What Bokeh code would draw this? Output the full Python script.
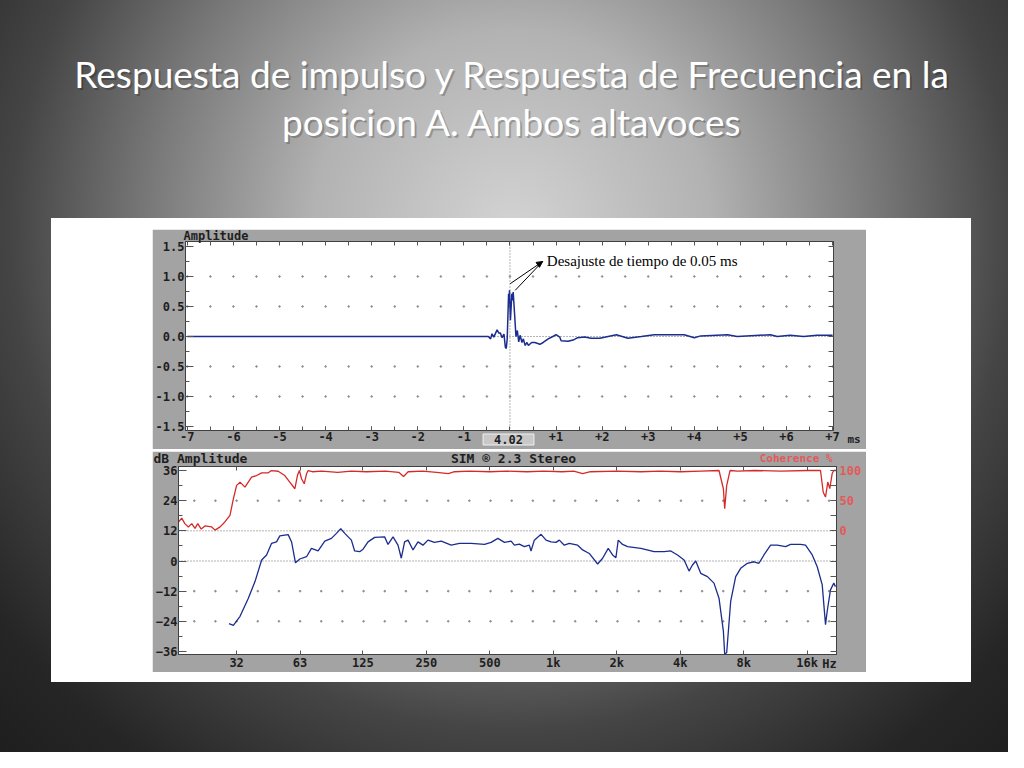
import numpy as np
from bokeh.plotting import figure
from bokeh.models import (Range1d, LinearAxis, LogAxis, FixedTicker, Label, Span,
                          Arrow, NormalHead, Spacer)
from bokeh.layouts import column, row
from bokeh.embed import file_html
from bokeh.resources import INLINE
from bokeh.core.properties import value

# ---------------- data ----------------
TITLE_LINES = ["Respuesta de impulso y Respuesta de Frecuencia en la",
               "posicion A. Ambos altavoces"]

# impulse response (time in ms, amplitude)
IMP_T = [-7.0, -0.47, -0.42, -0.39, -0.35, -0.28, -0.24, -0.21, -0.17, -0.13, -0.10,
         -0.08, -0.06, -0.04, -0.03, -0.02, -0.01, 0.01, 0.03, 0.04, 0.05, 0.07, 0.10,
         0.13, 0.16, 0.19, 0.22, 0.26, 0.29, 0.33, 0.37, 0.40, 0.47, 0.54, 0.65, 0.72,
         0.83, 0.93, 1.00, 1.08, 1.11, 1.26, 1.37, 1.47, 1.62, 1.76, 1.95, 2.31, 2.56,
         2.85, 3.13, 3.42, 3.78, 4.00, 4.14, 4.72, 4.93, 5.65, 5.80, 6.08, 6.37, 6.66, 7.0]
IMP_A = [0.0, 0.0, -0.04, 0.045, -0.01, 0.11, 0.055, 0.06, -0.02, 0.04, -0.18,
         -0.20, -0.04, 0.45, 0.71, 0.55, 0.77, 0.27, 0.55, 0.71, 0.60, 0.74, 0.38,
         0.0, 0.10, -0.09, 0.02, -0.10, -0.04, -0.15, -0.10, -0.15, -0.10, -0.10, -0.13, -0.10,
         -0.04, 0.0, 0.03, -0.01, -0.07, -0.08, -0.06, -0.02, -0.01, -0.03, -0.03, 0.03, -0.03,
         0.0, 0.03, 0.03, 0.03, -0.02, 0.01, 0.03, 0.0, 0.03, 0.0, 0.02, 0.0, 0.02, 0.02]

MS_TICKS = [-7, -6, -5, -4, -3, -2, -1, 1, 2, 3, 4, 5, 6, 7]
MS_LABELS = ["-7", "-6", "-5", "-4", "-3", "-2", "-1", "+1", "+2", "+3", "+4", "+5", "+6", "+7"]
CENTER_LABEL = "4.02"
AMP_TICKS = [-1.5, -1.0, -0.5, 0.0, 0.5, 1.0, 1.5]
AMP_LABELS = ["-1.5", "-1.0", "-0.5", "0.0", "0.5", "1.0", "1.5"]

# frequency response magnitude (Hz, dB)
AMP_F = [29.0, 30.4, 32.7, 35.8, 38.5, 41.4, 43.7, 46.1, 48.7, 50.5, 55.3, 57.4, 59.9, 62.8,
         67.6, 71.3, 76.7, 82.5, 88.7, 93.7, 98.2, 102.6, 110.3, 114.3, 120.8, 125.3, 132.3,
         142.2, 158.6, 164.6, 173.8, 183.5, 190.2, 197.2, 204.7, 216.2, 228.2, 241.0, 254.5,
         273.4, 294.2, 328, 359, 408, 472, 507, 546, 587, 631, 654, 690, 729, 770, 784, 813,
         875, 924, 976, 1030, 1068, 1128, 1191, 1305, 1378, 1481, 1623, 1714, 1822, 1911,
         1981, 2032, 2131, 2250, 2602, 3008, 3354, 3608, 3881, 4171, 4404, 4571, 4738, 5002,
         5383, 5781, 6107, 6407, 6498, 6641, 6937, 7327, 7737, 8326, 8943, 9444, 9976, 10729,
         11542, 12638, 13343, 14881, 15712, 16903, 17851, 18850, 19539, 19902, 20629, 21385,
         21785]
AMP_DB = [-24.9, -25.6, -22.0, -14.8, -8.2, 0.4, 2.4, 7.0, 7.6, 10.0, 10.5, 7.6, -0.7, 0.8,
          1.7, 5.0, 4.0, 7.9, 9.0, 11.0, 12.9, 11.0, 8.3, 4.0, 3.7, 4.7, 7.6,
          9.4, 9.6, 6.6, 9.6, 6.3, 1.1, 7.6, 8.3, 4.4, 7.6, 6.3, 8.3,
          7.4, 7.9, 6.3, 7.0, 7.0, 6.6, 7.4, 9.0, 7.4, 7.9, 6.3, 6.7, 5.7, 6.3, 4.0, 8.3,
          10.6, 8.3, 7.6, 7.4, 8.3, 6.3, 7.0, 6.3, 4.4, 3.0, -1.2, 1.1, 5.0, 2.4,
          1.3, 8.3, 6.6, 5.7, 5.0, 3.7, 3.7, 4.0, 2.4, 0.4, -4.0, -1.6, 0.0, -4.9,
          -6.2, -8.8, -14.8, -28.0, -37.0, -36.5, -16.1, -6.2, -2.9, -0.9, -0.3, -0.9, 2.4, 6.3,
          6.3, 5.7, 6.6, 6.6, 6.3, 2.4, -2.3, -9.5, -25.3, -20.0, -11.5, -8.8,
          -10.2]

# coherence (Hz, %)
COH_F = [16.7, 17.3, 17.9, 18.6, 19.3, 20.0, 20.6, 21.4, 22.3, 24.0, 24.9, 26.3, 27.7, 29.3,
         30.4, 31.5, 32.7, 34.5, 37.1, 39.2, 41.4, 44.5, 46.1, 49.6, 53.3, 56.3, 59.5, 61.2,
         62.5, 64.0, 65.9, 67.6, 68.8, 72, 80, 95, 110, 130, 160, 185, 195, 205, 240, 280,
         318, 340, 400, 500, 600, 750, 900, 1100, 1250, 1378, 1500, 2000, 2600, 3200, 4000,
         5000, 6107, 6407, 6498, 6641, 6886, 7500, 9000, 12000, 16000, 18500, 19060, 19539,
         20034, 20472, 21014, 21385, 22000]
COH = [14.7, 21.0, 12.0, 6.5, 12.0, 4.0, 12.0, 3.0, 8.2, 6.5, 1.2, 6.5, 14.7, 25.8,
       53.0, 75.4, 80.7, 72.5, 88.9, 91.7, 96.2, 96.2, 100, 98.8, 91.7, 80.7, 69.8, 91.7,
       100, 86.3, 78.0, 94.6, 100, 98, 99, 97, 99, 98, 99, 97, 90, 98, 99, 97,
       95, 98, 99, 98, 99, 98, 99, 98, 99, 95, 98, 99, 98, 99, 98,
       99, 100, 69.8, 36.8, 75, 100, 99, 100, 99, 100, 100, 64, 56,
       81, 70, 95, 100, 100]

OCT_F = [31.5, 63, 125, 250, 500, 1000, 2000, 4000, 8000, 16000]
OCT_LABELS = ["32", "63", "125", "250", "500", "1k", "2k", "4k", "8k", "16k"]
DB_TICKS = [-36, -24, -12, 0, 12, 24, 36]
COH_TICKS = [0, 50, 100]

# ---------------- style ----------------
GRAY = "#a3a3a3"
MONO = "DejaVu Sans Mono"
LBL = "#1e1e1e"
AXL = "#404040"
BLUE = "#1b2d8e"
RED = "#d42a2a"
PINK = "#e25a5a"
DOT = "#8c8c8c"


def style_axis(ax, tin, minor_in, color=LBL, standoff=1):
    ax.major_tick_in = tin
    ax.major_tick_out = 0
    ax.minor_tick_in = minor_in
    ax.minor_tick_out = 0
    ax.axis_line_color = AXL
    ax.major_tick_line_color = "#555555"
    ax.minor_tick_line_color = "#555555"
    ax.major_label_text_font = MONO
    ax.major_label_text_font_style = "bold"
    ax.major_label_text_color = color
    ax.major_label_standoff = standoff
    ax.major_label_text_font_size = "12px"


def mono_label(**kw):
    base = dict(text_font=MONO, text_font_style="bold", text_font_size="12px",
                text_color=LBL, text_baseline="middle")
    base.update(kw)
    return Label(**base)


# ---------------- upper: impulse response ----------------
p1 = figure(width=714, height=220, x_range=Range1d(-7.04, 7.02), y_range=Range1d(-1.567, 1.583),
            x_axis_type=None, y_axis_type=None,
            min_border_left=31, min_border_right=33, min_border_top=12, min_border_bottom=19,
            border_fill_color=GRAY, background_fill_color="white", outline_line_color=AXL,
            output_backend="svg", toolbar_location=None)

half_ms = list(np.arange(-7, 7.01, 0.5))
quarter_amp = list(np.arange(-1.5, 1.51, 0.25))

xb = LinearAxis(ticker=FixedTicker(ticks=MS_TICKS, minor_ticks=half_ms),
                major_label_overrides={float(t): l for t, l in zip(MS_TICKS, MS_LABELS)})
style_axis(xb, 4, 4)
p1.add_layout(xb, "below")
xa = LinearAxis(ticker=FixedTicker(ticks=[], minor_ticks=half_ms))
style_axis(xa, 0, 4)
p1.add_layout(xa, "above")
yl = LinearAxis(ticker=FixedTicker(ticks=AMP_TICKS, minor_ticks=quarter_amp),
                major_label_overrides={float(t): l for t, l in zip(AMP_TICKS, AMP_LABELS)})
style_axis(yl, 8, 4)
p1.add_layout(yl, "left")
yr = LinearAxis(ticker=FixedTicker(ticks=[], minor_ticks=quarter_amp))
style_axis(yr, 0, 5)
p1.add_layout(yr, "right")

gx, gy = np.meshgrid(half_ms, [-1.0, -0.5, 0.5, 1.0])
p1.scatter(gx.ravel(), gy.ravel(), size=1.6, color=DOT)
p1.add_layout(Span(location=0, dimension="width", line_color="#6a6a6a", line_dash="1 2",
                   level="underlay"))
p1.add_layout(Span(location=0, dimension="height", line_color="#6a6a6a", line_dash="1 2",
                   level="underlay"))
p1.line(IMP_T, IMP_A, line_color=BLUE, line_width=1.5)

p1.add_layout(Arrow(end=NormalHead(size=6, fill_color="black", line_color="black"),
                    x_start=0.006, y_start=0.88, x_end=0.71, y_end=1.25,
                    line_color="black", line_width=1))
p1.add_layout(Arrow(end=None, x_start=0.115, y_start=0.77, x_end=0.71, y_end=1.25,
                    line_color="black", line_width=1))
p1.add_layout(Label(x=0.80, y=1.25, text="Desajuste de tiempo de 0.05 ms",
                    text_font="Liberation Serif", text_font_size="15px",
                    text_color="black", text_baseline="middle"))

# ---------------- lower: frequency response ----------------
F_MIN, F_MAX = 16.7, 22030
DB_MIN, DB_MAX = -37.2, 37.6
p2 = figure(width=714, height=221, x_axis_type="log", x_axis_location=None, y_axis_location=None,
            x_range=Range1d(F_MIN, F_MAX), y_range=Range1d(DB_MIN, DB_MAX),
            min_border_left=25, min_border_right=30, min_border_top=15, min_border_bottom=17,
            border_fill_color=GRAY, background_fill_color="white", outline_line_color=AXL,
            output_backend="svg", toolbar_location=None)
p2.grid.visible = False
# coherence scale: 0 % at 12 dB, 100 % at 36 dB
p2.extra_y_ranges = {"coh": Range1d((DB_MIN - 12) * 100 / 24, (DB_MAX - 12) * 100 / 24)}

fb = LogAxis(ticker=FixedTicker(ticks=OCT_F),
             major_label_overrides={float(f): l for f, l in zip(OCT_F, OCT_LABELS)})
style_axis(fb, 4, 0)
p2.add_layout(fb, "below")
fa = LogAxis(ticker=FixedTicker(ticks=[], minor_ticks=OCT_F))
style_axis(fa, 0, 4)
p2.add_layout(fa, "above")
dl = LinearAxis(ticker=FixedTicker(ticks=DB_TICKS, minor_ticks=list(range(-36, 37, 6))))
style_axis(dl, 8, 4)
p2.add_layout(dl, "left")
cr = LinearAxis(y_range_name="coh",
                ticker=FixedTicker(ticks=COH_TICKS, minor_ticks=list(range(-200, 101, 25))))
style_axis(cr, 6, 6, color=PINK, standoff=3)
p2.add_layout(cr, "right")

third_oct = [31.5 * 2 ** (k / 3) for k in range(-2, 29)]
gx2, gy2 = np.meshgrid(third_oct, [24, -12, -24])
p2.scatter(gx2.ravel(), gy2.ravel(), size=1.6, color=DOT)
for loc in (12, 0):
    p2.add_layout(Span(location=loc, dimension="width", line_color="#6a6a6a",
                       line_dash="1 2", level="underlay"))

p2.line(COH_F, COH, y_range_name="coh", line_color=RED, line_width=1.3)
p2.line(AMP_F, AMP_DB, line_color=BLUE, line_width=1.3)

# ---------------- overlay with the free texts (slide pixel coordinates) ----------------
ov = figure(width=1008, height=752, x_range=Range1d(0, 1008), y_range=Range1d(752, 0),
            x_axis_type=None, y_axis_type=None, min_border=0, outline_line_color=None,
            background_fill_alpha=0, border_fill_alpha=0,
            output_backend="svg", toolbar_location=None,
            styles={"margin-top": "-752px"})
ov.grid.visible = False
ov.text(x=[514, 514], y=[75, 123], text=TITLE_LINES, text_font=value("Lato"),
        text_font_size="37px", text_color="black", text_alpha=0.22,
        text_align="center", text_baseline="middle")
ov.text(x=[512, 512], y=[73, 121], text=TITLE_LINES, text_font=value("Lato"),
        text_font_size="37px", text_color="white",
        text_align="center", text_baseline="middle")
ov.add_layout(mono_label(x=183, y=235, text="Amplitude"))
ov.add_layout(mono_label(x=847, y=439, text="ms", text_font_size="11px"))
ov.add_layout(mono_label(x=508, y=439, text=CENTER_LABEL, text_align="center",
                         background_fill_color="#c8c8c8", border_line_color="#f0f0f0",
                         padding=dict(left=11, right=11, top=1, bottom=1)))
ov.add_layout(mono_label(x=153, y=458, text="dB Amplitude", text_font_size="13px"))
ov.add_layout(mono_label(x=513, y=458, text="SIM \u00ae 2.3 Stereo", text_align="center",
                         text_font_size="13px"))
ov.add_layout(mono_label(x=832, y=458, text="Coherence %", text_align="right",
                         text_color=PINK, text_font_size="11px"))
ov.add_layout(mono_label(x=829, y=663, text="Hz", text_align="center"))

# ---------------- layout ----------------
white_box = column(
    Spacer(width=920, height=11),
    row(Spacer(width=101, height=220), p1, width=920, height=220),
    Spacer(width=920, height=2),
    row(Spacer(width=101, height=221), p2, width=920, height=221),
    Spacer(width=920, height=10),
    width=920, height=464, styles={"background-color": "white"})

slide = column(
    Spacer(width=1008, height=218),
    row(Spacer(width=51, height=464), white_box, Spacer(width=37, height=464),
        width=1008, height=464),
    Spacer(width=1008, height=70),
    width=1008, height=752)

root = column(
    slide, ov,
    width=1008, height=752,
    styles={"background": "radial-gradient(circle at 512px 230px, #d3d3d3 0px, "
                          "#b2b2b2 200px, #7a7a7a 360px, #454545 500px, #262626 640px, "
                          "#1c1c1c 760px)"})

open("out.html", "w").write(file_html(root, INLINE))
